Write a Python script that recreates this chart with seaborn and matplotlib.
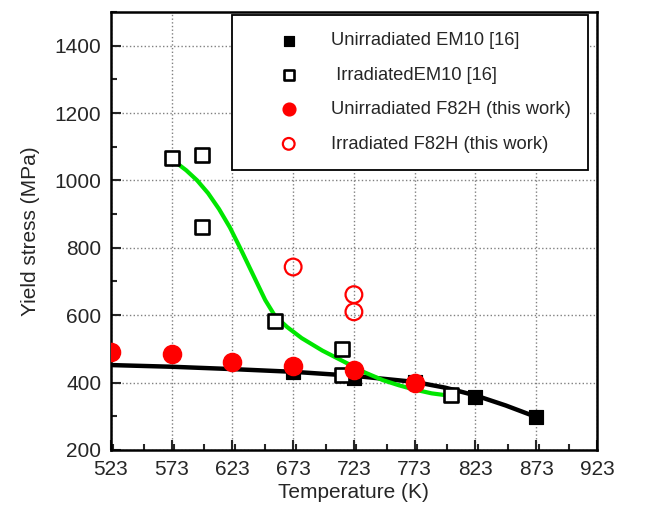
import matplotlib
matplotlib.use("Agg")
import matplotlib.pyplot as plt
from matplotlib.ticker import MultipleLocator
import seaborn as sns

# --- data ---
unirr_em10_T = [673, 723, 773, 823, 873]
unirr_em10_ys = [430, 413, 401, 358, 297]

irr_em10_T = [573, 598, 598, 658, 713, 713, 803]
irr_em10_ys = [1066, 1076, 863, 583, 501, 422, 363]

unirr_f82h_T = [523, 573, 623, 673, 723, 773]
unirr_f82h_ys = [490, 484, 461, 449, 437, 398]

irr_f82h_T = [673, 723, 723]
irr_f82h_ys = [743, 661, 610]

# fitted trend curves
black_fit_T = [523, 573, 623, 673, 723, 773, 798, 823, 848, 873]
black_fit_ys = [452, 447, 440, 432, 420, 402, 385, 362, 332, 298]

green_fit_T = [577, 585, 594, 603, 612, 621, 630, 640, 650, 658, 668, 680, 697, 717, 732, 747, 760, 772, 787, 802]
green_fit_ys = [1052, 1030, 1000, 962, 915, 860, 795, 720, 645, 598, 565, 532, 495, 458, 430, 407, 392, 380, 368, 361]

sns.set_style("ticks")
plt.rcParams['font.family'] = ['Liberation Sans', 'DejaVu Sans']

fig = plt.figure(figsize=(6.64, 5.19), dpi=100)
ax = fig.add_axes([0.167, 0.133, 0.732, 0.844])

# trend lines
sns.lineplot(x=black_fit_T, y=black_fit_ys, ax=ax, color='black', lw=3.2,
             sort=False, zorder=2, legend=False)
sns.lineplot(x=green_fit_T, y=green_fit_ys, ax=ax, color='#00e600', lw=3.0,
             sort=False, zorder=2, legend=False)

# data points
sns.scatterplot(x=unirr_em10_T, y=unirr_em10_ys, ax=ax, marker='s', s=110,
                color='black', edgecolor='black', zorder=3,
                label='Unirradiated EM10 [16]')
sns.scatterplot(x=irr_em10_T, y=irr_em10_ys, ax=ax, marker='s', s=105,
                facecolor='white', edgecolor='black', linewidth=1.9, zorder=4,
                label=' IrradiatedEM10 [16]')
sns.scatterplot(x=unirr_f82h_T, y=unirr_f82h_ys, ax=ax, marker='o', s=170,
                color='red', edgecolor='red', zorder=5,
                label='Unirradiated F82H (this work)')
sns.scatterplot(x=irr_f82h_T, y=irr_f82h_ys, ax=ax, marker='o', s=145,
                facecolor='none', edgecolor='red', linewidth=1.6, zorder=5,
                label='Irradiated F82H (this work)')

ax.set_xlim(523, 923)
ax.set_ylim(200, 1500)
ax.set_xticks(range(523, 924, 50))
ax.set_yticks(range(200, 1401, 200))
ax.xaxis.set_minor_locator(MultipleLocator(25))
ax.yaxis.set_minor_locator(MultipleLocator(100))
ax.tick_params(which='both', direction='in', top=False, right=False,
               labelsize=15, width=1.5)
ax.tick_params(which='major', length=7)
ax.tick_params(which='minor', length=4)
ax.tick_params(axis='x', pad=7)
ax.tick_params(axis='y', pad=7)
ax.grid(True, which='major', ls=':', color='gray', lw=1)
for sp in ax.spines.values():
    sp.set_linewidth(1.8)
    sp.set_color('black')

ax.set_xlabel('Temperature (K)', fontsize=15, labelpad=3)
ax.set_ylabel('Yield stress (MPa)', fontsize=15, labelpad=10)

leg = ax.legend(loc='upper right', bbox_to_anchor=(0.982, 0.993), fontsize=13.2,
                frameon=True, fancybox=False, edgecolor='black',
                labelspacing=0.95, borderpad=0.95, handlelength=4.3,
                handletextpad=0.15, markerscale=0.7, borderaxespad=0)
leg.get_frame().set_linewidth(1.3)
leg.get_frame().set_alpha(1)

fig.savefig('out.png', dpi=100)
